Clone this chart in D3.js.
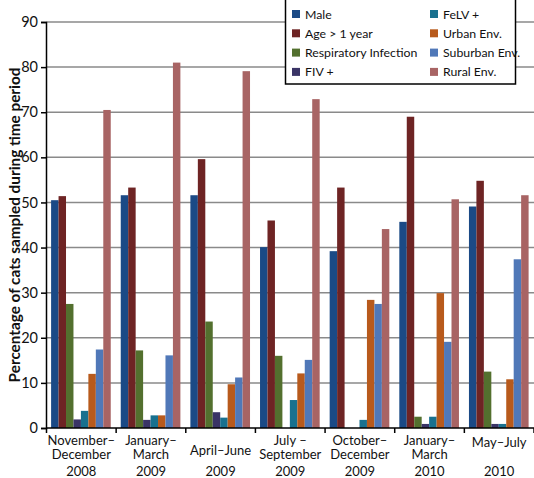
<!DOCTYPE html>
<html><head><meta charset="utf-8">
<script src="https://cdn.jsdelivr.net/npm/d3@7"></script>
<style>body{margin:0;background:#fff}svg{display:block}text{font-family:Lato,"Open Sans",sans-serif}</style>
</head><body><svg id="c" width="534" height="478"></svg>
<script>
const categories = [
  ["November–","December","2008"],
  ["January–","March","2009"],
  ["","April–June","2009"],
  ["July –","September","2009"],
  ["October–","December","2009"],
  ["January–","March","2010"],
  ["May–July","","2010"]
];
const seriesNames = ["Male","Age > 1 year","Respiratory Infection","FIV +","FeLV +","Urban Env.","Suburban Env.","Rural Env."];
const seriesColors = ["#1b4a86","#6e2424","#53702e","#3a3466","#19718f","#b85a1c","#5078b8","#a86464"];
const male      = [50.5, 51.6, 51.6, 40.1, 39.2, 45.7, 49.1];
const age       = [51.4, 53.3, 59.6, 46.0, 53.3, 69.0, 54.8];
const resp      = [27.5, 17.2, 23.6, 16.0, 0, 2.5, 12.5];
const fiv       = [1.9, 1.8, 3.5, 0, 0, 0.9, 0.9];
const felv      = [3.8, 2.8, 2.3, 6.2, 1.8, 2.5, 0.9];
const urban     = [12.0, 2.8, 9.7, 12.1, 28.4, 29.9, 10.8];
const suburban  = [17.4, 16.1, 11.2, 15.1, 27.5, 19.1, 37.4];
const rural     = [70.5, 81.0, 79.1, 72.9, 44.1, 50.7, 51.6];
const yTicks = [0,10,20,30,40,50,60,70,80,90];
const yTitle = "Percentage of cats sampled during time period";

const series = [male, age, resp, fiv, felv, urban, suburban, rural];
const svg = d3.select("#c");
const pL = 46, pR = 534, pT = 22, pB = 428;
const y = d3.scaleLinear().domain([0,90]).range([pB, pT]);
const x0 = d3.scaleBand().domain(d3.range(categories.length)).range([pL+0.5, pR]);
const x1 = d3.scaleBand().domain(d3.range(series.length)).range([4.6, x0.bandwidth()-5.4]);

// gridlines
svg.append("g").selectAll("line").data(yTicks.filter(d=>d>0)).join("line")
  .attr("x1", pL).attr("x2", pR).attr("y1", d=>y(d)).attr("y2", d=>y(d))
  .attr("stroke", "#8a8a8a").attr("stroke-width", 1.5);

// bars
const g = svg.append("g");
series.forEach((vals, si) => {
  g.append("g").attr("fill", seriesColors[si]).selectAll("rect").data(vals).join("rect")
    .attr("x", (d,i)=>x0(i)+x1(si)).attr("width", x1.bandwidth())
    .attr("y", d=>y(d)).attr("height", d=>pB - y(d));
});

// y axis
const ya = svg.append("g").attr("transform", `translate(${pL},0)`)
  .call(d3.axisLeft(y).tickValues(yTicks).tickSize(5).tickPadding(3));
ya.select(".domain").attr("stroke","#000").attr("stroke-width",1.5);
ya.selectAll(".tick line").attr("stroke","#000").attr("stroke-width",1.5);
ya.selectAll("text").attr("font-size", 14.5).attr("fill","#111").attr("font-family","Lato");

// x axis
svg.append("line").attr("x1", pL).attr("x2", pR).attr("y1", pB).attr("y2", pB)
  .attr("stroke","#000").attr("stroke-width",1.5);
const bounds = d3.range(categories.length+1).map(i => i < categories.length ? x0(i) : pR);
svg.append("g").selectAll("line").data(bounds).join("line")
  .attr("x1", d=>d).attr("x2", d=>d).attr("y1", pB).attr("y2", pB+5)
  .attr("stroke","#000").attr("stroke-width",1.5);

const lab = svg.append("g").attr("font-size", 13).attr("fill","#111").attr("text-anchor","middle");
categories.forEach((c, i) => {
  const cx = x0(i) + x0.bandwidth()/2;
  if (c[0] === "") {
    lab.append("text").attr("x", cx).attr("y", 455).text(c[1]);
  } else if (c[1] === "") {
    lab.append("text").attr("x", cx).attr("y", 447).text(c[0]);
  } else {
    lab.append("text").attr("x", cx).attr("y", 445).text(c[0]);
    lab.append("text").attr("x", cx).attr("y", 459).text(c[1]);
  }
  lab.append("text").attr("x", cx).attr("y", 476).text(c[2]);
});

// y title
svg.append("text").attr("transform", `translate(20,${(pT+pB)/2}) rotate(-90)`)
  .attr("text-anchor","middle").attr("font-size", 15.3).attr("font-weight","bold").attr("fill","#111")
  .text(yTitle);

// legend
const lg = svg.append("g");
lg.append("rect").attr("x", 285.5).attr("y", -1).attr("width", 230).attr("height", 85)
  .attr("fill","#fff").attr("stroke","#000").attr("stroke-width",1.5);
seriesNames.forEach((n, i) => {
  const col = i < 4 ? 0 : 1, row = i % 4;
  const lx = col === 0 ? 292 : 430, ly = 14 + row*19.3;
  lg.append("rect").attr("x", lx).attr("y", ly-4).attr("width", 8).attr("height", 8).attr("fill", seriesColors[i]);
  lg.append("text").attr("x", lx+13).attr("y", ly+4.5).attr("font-size", 12.3).attr("fill","#111").text(n);
});
</script></body></html>
